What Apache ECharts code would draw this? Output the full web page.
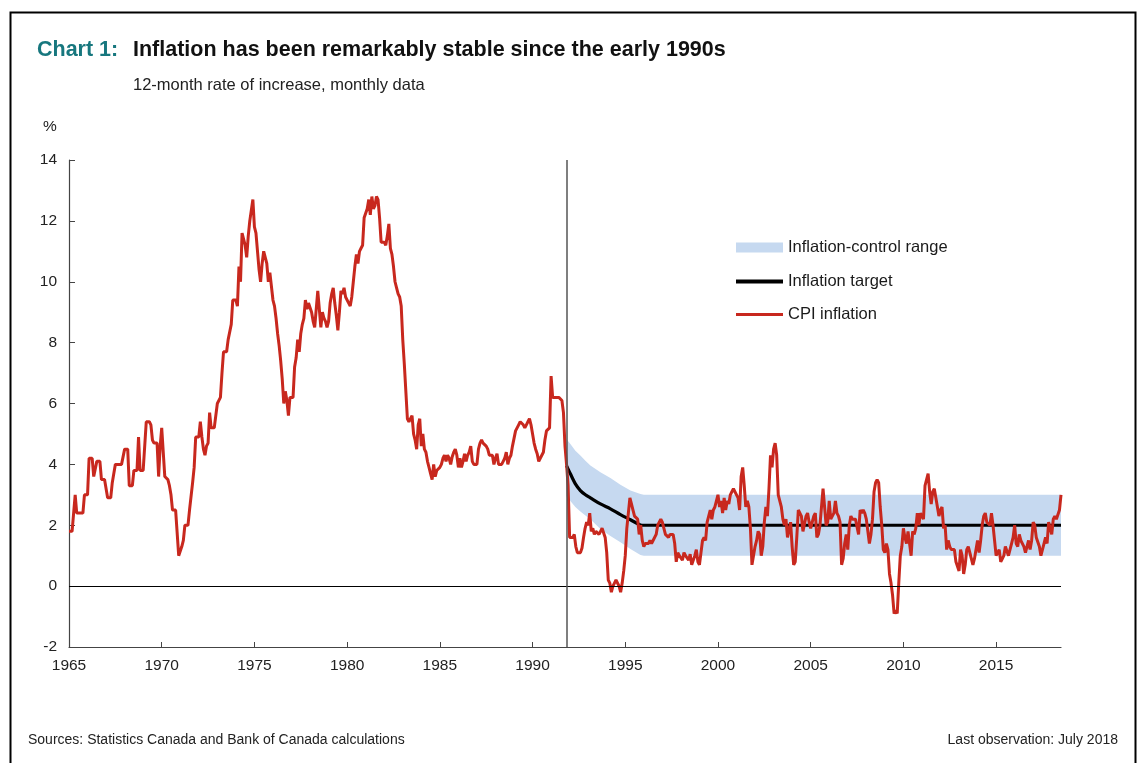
<!DOCTYPE html>
<html><head><meta charset="utf-8">
<script src="https://cdn.jsdelivr.net/npm/echarts@6/dist/echarts.min.js"></script>
<style>html,body{margin:0;padding:0;background:#fff}#c{width:1140px;height:763px}</style>
</head><body><div id="c"></div>
<script>
// ---------- DATA ----------
const startYear = 1965; // monthly data, first month = January 1965
const cpi1960s = [
  1.8,1.8,1.8,1.8,3.0,2.4,2.4,2.4,2.4,2.4,3.0,3.0,   // 1965
  3.0,4.2,4.2,4.2,3.6,3.6,4.1,4.1,4.1,3.5,3.5,3.5,   // 1966
  3.5,2.9,2.9,2.9,3.4,3.7,4.0,4.0,4.0,4.0,4.0,4.0,   // 1967
  4.5,4.5,4.5,3.3,3.3,3.3,3.8,3.8,3.8,4.9,3.8,3.8,   // 1968
  3.8,3.8,5.4,5.4,5.4,5.3,4.8,4.7,4.7,4.7,3.6,4.6    // 1969
];
const cpi1970s = [
  5.2,5.2,3.6,3.6,3.5,3.3,3.0,2.5,2.5,2.5,2.5,1.0,   // 1970
  1.0,1.3,1.5,2.0,2.0,2.0,2.5,2.5,3.4,3.9,4.9,4.9,   // 1971
  4.9,5.4,4.9,4.5,4.3,4.6,4.7,5.7,5.2,5.2,5.2,5.2,   // 1972
  6.0,6.0,6.2,7.0,7.7,7.7,7.7,8.1,8.1,8.6,9.4,9.4,   // 1973
  9.4,9.2,10.5,10.0,11.6,11.6,11.2,10.8,11.5,12.0,12.0,12.7, // 1974
  11.8,11.6,11.0,10.4,10.0,10.6,11.0,11.0,10.6,10.0,10.3,10.3, // 1975
  9.4,9.2,8.8,8.3,7.9,7.4,6.8,6.0,6.4,6.1,5.6,6.2,   // 1976
  6.2,6.2,7.2,7.5,8.1,7.7,8.3,8.6,8.8,9.4,9.1,9.3,   // 1977
  9.3,9.0,8.7,8.5,9.1,9.7,9.7,8.5,9.0,8.8,8.7,8.5,   // 1978
  8.7,9.3,9.6,9.8,9.3,8.9,8.4,9.0,9.7,9.6,9.8,9.5    // 1979
];
const cpi1980s = [
  9.5,9.3,9.2,9.5,10.0,10.5,10.9,10.6,11.0,11.1,11.2,12.1, // 1980
  12.1,12.4,12.7,12.2,12.8,12.4,12.5,12.8,12.7,12.1,11.3,11.3, // 1981
  11.3,11.2,11.5,11.9,11.1,10.9,10.5,10.0,9.8,9.6,9.5,9.2,  // 1982
  8.1,7.3,6.4,5.5,5.4,5.4,5.6,5.0,4.8,4.5,5.3,5.5,   // 1983
  4.6,5.0,4.5,4.4,4.1,3.9,3.7,3.5,4.0,3.6,3.8,3.8,   // 1984
  3.9,4.0,4.2,4.3,4.1,4.3,4.2,4.0,4.25,4.4,4.5,4.3,  // 1985
  3.9,4.2,3.9,4.1,4.35,4.1,4.3,4.4,4.6,4.1,4.0,4.0,  // 1986
  4.0,4.5,4.7,4.8,4.7,4.7,4.6,4.5,4.3,4.3,4.3,4.0,   // 1987
  4.2,4.35,4.0,4.0,4.0,4.1,4.2,4.4,4.0,4.2,4.3,4.6,  // 1988
  4.6,5.1,5.2,5.3,5.4,5.4,5.3,5.2,5.3,5.4,5.5,5.3    // 1989
];
const cpi1990s = [
  5.25,4.7,4.5,4.35,4.1,4.2,4.3,4.4,4.8,5.1,5.1,5.2, // 1990
  6.9,6.2,6.2,6.2,6.2,6.2,6.2,6.1,5.7,4.6,4.0,3.3,   // 1991
  1.6,1.6,1.6,1.7,1.3,1.1,1.1,1.1,1.25,1.6,1.9,2.1,  // 1992
  2.0,2.4,1.8,1.9,1.7,1.8,1.8,1.7,1.8,1.9,1.9,1.6,   // 1993
  1.1,0.2,0.1,-0.2,0.0,0.1,0.2,0.2,0.0,-0.2,0.1,0.5, // 1994
  1.0,1.9,2.4,2.9,2.7,2.5,2.3,2.3,2.2,1.7,2.0,1.5,   // 1995
  1.3,1.4,1.4,1.4,1.5,1.4,1.5,1.5,1.7,2.0,2.1,2.2,   // 1996
  2.1,1.9,1.7,1.7,1.6,1.7,1.7,1.7,1.4,0.8,1.1,1.0,   // 1997
  1.0,0.85,1.1,1.0,1.0,0.85,1.05,0.7,0.7,1.0,1.2,0.8, // 1998
  0.7,0.75,1.5,1.6,1.5,2.1,2.3,2.5,2.2,2.5,2.6,2.6   // 1999
];
const cpi2000s = [
  3.0,2.6,2.8,2.4,2.9,2.5,2.8,2.7,3.0,3.1,3.2,3.2,   // 2000
  3.0,2.9,2.5,3.6,3.9,3.3,2.6,2.8,2.6,1.9,0.7,0.7,   // 2001
  1.3,1.5,1.8,1.7,1.0,1.3,2.1,2.6,2.3,3.2,4.3,3.9,   // 2002
  4.5,4.7,4.3,3.0,2.8,2.6,2.2,2.0,2.2,1.6,1.6,2.1,   // 2003
  1.3,0.7,0.8,1.6,2.5,2.5,2.3,1.8,1.8,2.3,2.4,2.1,   // 2004
  1.9,2.1,2.3,2.4,1.6,1.7,2.0,2.6,3.2,2.6,2.0,2.1,   // 2005
  2.8,2.2,2.2,2.4,2.8,2.4,2.3,2.1,0.7,0.9,1.4,1.7,   // 2006
  1.2,2.0,2.3,2.2,2.2,2.2,2.2,1.7,2.5,2.4,2.5,2.4,   // 2007
  2.2,1.8,1.4,1.7,2.2,3.1,3.4,3.5,3.4,2.6,2.0,1.2,   // 2008
  1.1,1.4,1.2,0.4,0.1,-0.3,-0.9,-0.8,-0.9,0.1,1.0,1.3 // 2009
];
const cpi2010s = [
  1.9,1.6,1.4,1.8,1.4,1.0,1.8,1.7,1.9,2.4,2.0,2.4,   // 2010
  2.3,2.2,3.3,3.3,3.7,3.1,2.7,3.1,3.2,2.9,2.9,2.3,   // 2011
  2.5,2.6,1.9,2.0,1.2,1.5,1.3,1.2,1.2,1.2,0.8,0.8,   // 2012
  0.5,1.2,1.0,0.4,0.7,1.2,1.3,1.1,1.1,0.7,0.9,1.2,   // 2013
  1.5,1.1,1.5,2.0,2.3,2.4,2.1,2.1,2.0,2.4,2.0,1.5,   // 2014
  1.0,1.0,1.2,0.8,0.9,1.0,1.3,1.3,1.0,1.0,1.4,1.6,   // 2015
  2.0,1.4,1.3,1.7,1.5,1.5,1.3,1.1,1.3,1.5,1.2,1.5,   // 2016
  2.1,2.0,1.6,1.6,1.3,1.0,1.2,1.4,1.6,1.4,2.1,1.9,   // 2017
  1.7,2.2,2.3,2.2,2.2,2.5,3.0                        // 2018 (Jan-Jul)
];
// Inflation-target path and control range (from late 1991)
const targetYears  = [1991.83,1992.04,1992.31,1992.58,1992.85,1993.12,1993.66,1994.2,1994.74,1995.28,1995.82,1996.0,2018.5];
const targetValues = [3.96,3.69,3.36,3.14,3.0,2.9,2.7,2.54,2.35,2.18,2.01,2.0,2.0];
const rangeUpper   = [4.83,4.67,4.45,4.29,4.12,3.96,3.74,3.55,3.33,3.14,3.03,3.0,3.0];
const rangeLower   = [2.96,2.8,2.6,2.45,2.32,2.2,1.88,1.65,1.44,1.22,1.02,1.0,1.0];
const policyStart = 1991.83;
const xTicks = {min: 1965, max: 2018.5, interval: 5};
const yTicks = {min: -2, max: 14, interval: 2};

// ---------- BUILD ----------
const cpi = [].concat(cpi1960s, cpi1970s, cpi1980s, cpi1990s, cpi2000s, cpi2010s);
const cpiData = cpi.map((v, i) => [startYear + i / 12, v]);
const targetData = targetYears.map((x, i) => [x, targetValues[i]]);
const bandData = targetYears.map((x, i) => [x, rangeLower[i], rangeUpper[i]]);

const FONT = 'Liberation Sans, Arial, sans-serif';
const RED = '#c8281e', BAND = '#c6d9f0';
const chart = echarts.init(document.getElementById('c'), null, {renderer: 'canvas'});
const legendText = {fontFamily: FONT, fontSize: 16.5, color: '#1a1a1a'};

// band polygon drawn once through the axis scales
function renderBand(params, api) {
  if (params.dataIndexInside !== 0) return null;
  const n = bandData.length;
  const top = [], bottom = [];
  for (let i = 0; i < n; i++) {
    top.push(api.coord([bandData[i][0], bandData[i][2]]));
    bottom.push(api.coord([bandData[i][0], bandData[i][1]]));
  }
  const points = top.concat(bottom.reverse());
  return {type: 'polygon', shape: {points: points}, style: {fill: BAND}, silent: true};
}

chart.setOption({
  backgroundColor: '#fff',
  animation: false,
  title: [
    {text: 'Chart 1:', left: 37, top: 39, padding: 0,
     textStyle: {fontFamily: FONT, fontSize: 21.5, fontWeight: 'bold', color: '#17777e'}},
    {text: 'Inflation has been remarkably stable since the early 1990s', left: 133, top: 39, padding: 0,
     textStyle: {fontFamily: FONT, fontSize: 21.5, fontWeight: 'bold', color: '#111'}},
    {text: '12-month rate of increase, monthly data', left: 133, top: 77, padding: 0,
     textStyle: {fontFamily: FONT, fontSize: 16.5, fontWeight: 'normal', color: '#222'}},
    {text: '%', left: 43, top: 119, padding: 0,
     textStyle: {fontFamily: FONT, fontSize: 15.5, fontWeight: 'normal', color: '#222'}},
    {text: 'Sources: Statistics Canada and Bank of Canada calculations', left: 28, top: 733, padding: 0,
     textStyle: {fontFamily: FONT, fontSize: 14, fontWeight: 'normal', color: '#222'}},
    {text: 'Last observation: July 2018', right: 22, top: 733, padding: 0,
     textStyle: {fontFamily: FONT, fontSize: 14, fontWeight: 'normal', color: '#222'}}
  ],
  graphic: [{
    type: 'rect', left: 8, top: 10, silent: true,
    shape: {width: 1125, height: 770},
    style: {fill: 'none', stroke: '#000', lineWidth: 2}
  }],
  legend: [
    {left: 736, top: 239, padding: 0, selectedMode: false, itemWidth: 47, itemHeight: 10, itemGap: 5,
     textStyle: legendText,
     data: [{name: 'Inflation-control range', icon: 'rect', itemStyle: {color: BAND, borderWidth: 0}}]},
    {left: 736, top: 273, padding: 0, selectedMode: false, itemWidth: 47, itemHeight: 4, itemGap: 5,
     textStyle: legendText,
     data: [{name: 'Inflation target', icon: 'rect', itemStyle: {color: '#000', borderWidth: 0}}]},
    {left: 736, top: 306, padding: 0, selectedMode: false, itemWidth: 47, itemHeight: 3, itemGap: 5,
     textStyle: legendText,
     data: [{name: 'CPI inflation', icon: 'rect', itemStyle: {color: RED, borderWidth: 0}}]}
  ],
  grid: {left: 69, right: 79, top: 160, bottom: 116, containLabel: false, outerBoundsMode: 'none'},
  xAxis: {
    type: 'value', min: xTicks.min, max: xTicks.max, interval: xTicks.interval,
    axisLine: {onZero: false, lineStyle: {color: '#444', width: 1.2}},
    axisTick: {inside: true, length: 5, lineStyle: {color: '#444'}},
    splitLine: {show: false},
    axisLabel: {showMaxLabel: false, margin: 11, fontFamily: FONT, fontSize: 15.5, color: '#222',
      formatter: v => String(Math.round(v))}
  },
  yAxis: {
    type: 'value', min: yTicks.min, max: yTicks.max, interval: yTicks.interval,
    axisLine: {show: true, lineStyle: {color: '#444', width: 1.2}},
    axisTick: {show: true, inside: true, length: 6, lineStyle: {color: '#444'}},
    splitLine: {show: false},
    axisLabel: {margin: 12, fontFamily: FONT, fontSize: 15.5, color: '#222'}
  },
  series: [
    {name: 'Inflation-control range', type: 'custom', data: bandData, renderItem: renderBand,
     encode: {x: 0, y: [1, 2]}, itemStyle: {color: BAND}, silent: true, z: 1, clip: true},
    {name: 'Inflation target', type: 'line', data: targetData, symbol: 'none', smooth: 0.3,
     lineStyle: {color: '#000', width: 3.2}, itemStyle: {color: '#000'}, z: 3},
    {name: 'CPI inflation', type: 'line', data: cpiData, symbol: 'none',
     lineStyle: {color: RED, width: 3}, itemStyle: {color: RED}, z: 4,
     markLine: {
       silent: true, symbol: 'none', label: {show: false}, animation: false,
       data: [
         {yAxis: 0, lineStyle: {color: '#000', width: 1, type: 'solid'}},
         {xAxis: policyStart, lineStyle: {color: '#555', width: 1.5, type: 'solid'}}
       ]
     }}
  ]
});
</script>
</body></html>
